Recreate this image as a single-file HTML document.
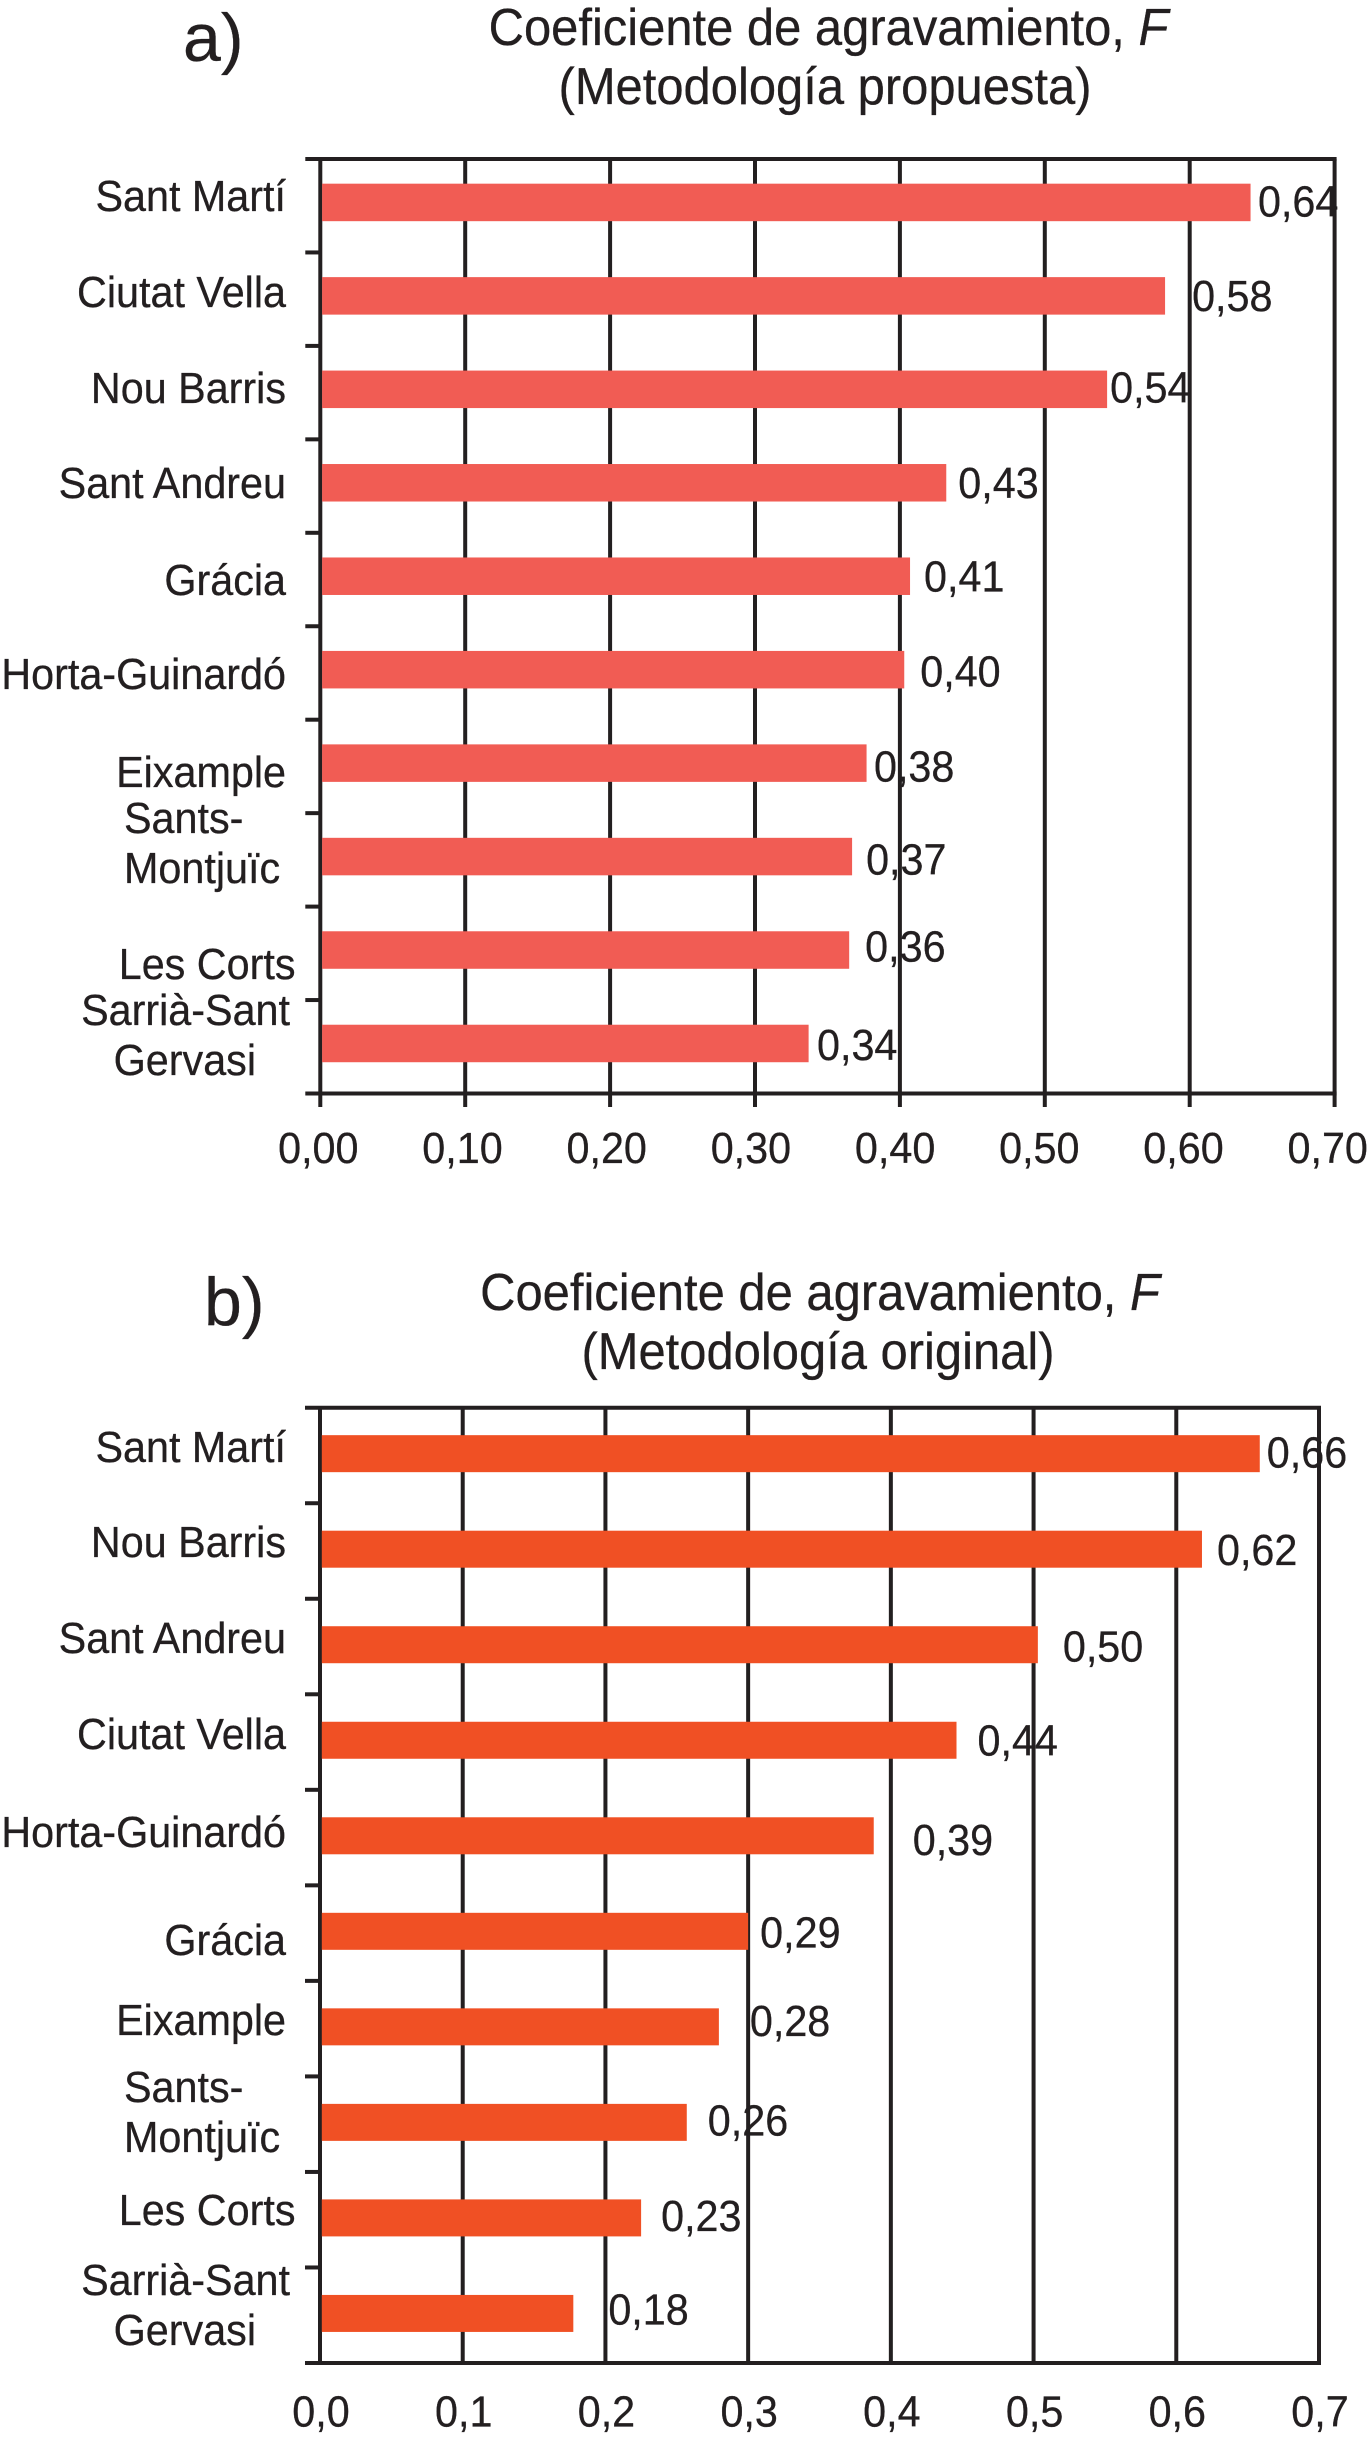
<!DOCTYPE html>
<html lang="es">
<head>
<meta charset="utf-8">
<title>Coeficiente de agravamiento</title>
<style>
html,body{margin:0;padding:0;background:#fff;}
svg{display:block;}
text{font-family:"Liberation Sans",Arial,sans-serif;fill:#231f20;stroke:#231f20;stroke-width:0.3;}
</style>
</head>
<body>
<svg id="figure" xmlns="http://www.w3.org/2000/svg" width="1369" height="2447" viewBox="0 0 1369 2447">
  <rect x="0" y="0" width="1369" height="2447" fill="#ffffff"/>
  <text x="183" y="61" font-size="68">a)</text>
  <text transform="translate(828.5,45) scale(.95,1)" font-size="51.5" text-anchor="middle">Coeficiente de agravamiento, <tspan font-style="italic">F</tspan></text>
  <text transform="translate(825,104) scale(.95,1)" font-size="51.5" text-anchor="middle">(Metodología propuesta)</text>
  <text x="204" y="1325" font-size="68">b)</text>
  <text transform="translate(820,1310) scale(.95,1)" font-size="51.5" text-anchor="middle">Coeficiente de agravamiento, <tspan font-style="italic">F</tspan></text>
  <text transform="translate(818,1369) scale(.95,1)" font-size="51.5" text-anchor="middle">(Metodología original)</text>
  <g id="chart-a"></g>
  <g id="chart-b"></g>
</svg>
<script>
// Panel a data
const categoriesA = ['Sant Martí','Ciutat Vella','Nou Barris','Sant Andreu','Grácia','Horta-Guinardó','Eixample','Sants-Montjuïc','Les Corts','Sarrià-Sant Gervasi'];
const valuesA = [0.642,0.583,0.543,0.432,0.407,0.403,0.377,0.367,0.365,0.337];
const printedA = ['0,64','0,58','0,54','0,43','0,41','0,40','0,38','0,37','0,36','0,34'];
const ticksA = [0,0.1,0.2,0.3,0.4,0.5,0.6,0.7];
const tickLabelsA = ['0,00','0,10','0,20','0,30','0,40','0,50','0,60','0,70'];

// Panel b data
const categoriesB = ['Sant Martí','Nou Barris','Sant Andreu','Ciutat Vella','Horta-Guinardó','Grácia','Eixample','Sants-Montjuïc','Les Corts','Sarrià-Sant Gervasi'];
const valuesB = [0.6585,0.618,0.503,0.446,0.388,0.30,0.2795,0.257,0.225,0.1775];
const printedB = ['0,66','0,62','0,50','0,44','0,39','0,29','0,28','0,26','0,23','0,18'];
const ticksB = [0,0.1,0.2,0.3,0.4,0.5,0.6,0.7];
const tickLabelsB = ['0,0','0,1','0,2','0,3','0,4','0,5','0,6','0,7'];

// Layout (not data)
const layoutA = {
  group:'chart-a', prefix:'a', color:'#f15c54',
  left:320.3, right:1334.6, top:159, bottom:1093.5, maxV:0.7,
  barHeight:37.5, centerShift:-3.3, tickDrop:13.5, axisLabelY:1163, axisLabelShift:function(v){return -2-7*v;},
  gapX:[7.4,27,3,12,14,16,7.4,14,16,8.4],
  gapY:[14,15,13,15,15.5,17,18.6,17.7,11.5,16.4],
  names:[
    [['Sant Martí',286,211,'end']],
    [['Ciutat Vella',286,307,'end']],
    [['Nou Barris',286,403,'end']],
    [['Sant Andreu',286,498,'end']],
    [['Grácia',286,595,'end']],
    [['Horta-Guinardó',286,689,'end']],
    [['Eixample',286,787,'end']],
    [['Sants-',124,833,'start'],['Montjuïc',124,883,'start']],
    [['Les Corts',295.5,979,'end']],
    [['Sarrià-Sant',290,1025,'end'],['Gervasi',256,1075,'end']]
  ]
};
const layoutB = {
  group:'chart-b', prefix:'b', color:'#f05024',
  left:320, right:1319, top:1407.7, bottom:2363, maxV:0.7,
  barHeight:37, centerShift:-1.8, tickDrop:0, axisLabelY:2426.7, axisLabelShift:function(v){return 1;},
  gapX:[7,15,25,21,39,12,31,21,20,35],
  gapY:[14,16,17,15,19,16,9,13,13,11],
  names:[
    [['Sant Martí',286,1462,'end']],
    [['Nou Barris',286,1557,'end']],
    [['Sant Andreu',286,1653,'end']],
    [['Ciutat Vella',286,1749,'end']],
    [['Horta-Guinardó',286,1847,'end']],
    [['Grácia',286,1955,'end']],
    [['Eixample',286,2035,'end']],
    [['Sants-',124,2102,'start'],['Montjuïc',124,2152,'start']],
    [['Les Corts',295.5,2225,'end']],
    [['Sarrià-Sant',290,2295,'end'],['Gervasi',256,2345,'end']]
  ]
};

const NS = 'http://www.w3.org/2000/svg';
const INK = '#231f20';
const LINE_W = 4;
const FONT = 43.5;
const NARROW = 0.95;

function make(tag, attrs, parent){
  const el = document.createElementNS(NS, tag);
  for (const k in attrs) el.setAttribute(k, attrs[k]);
  parent.appendChild(el);
  return el;
}

function placeText(x, y, anchor, parent){
  return make('text', {transform:'translate(' + x + ',' + y + ') scale(' + NARROW + ',1)', 'font-size':FONT, 'text-anchor':anchor}, parent);
}

function drawChart(L, categories, values, printed, ticks, tickLabels){
  const g = document.getElementById(L.group);
  const xScale = function(v){ return L.left + (L.right - L.left) * v / L.maxV; };
  const band = (L.bottom - L.top) / categories.length;
  const yCenter = function(i){ return L.top + band * (i + 0.5) + L.centerShift; };

  // gridlines and x ticks
  ticks.forEach(function(t, i){
    const line = make('line', {x1:xScale(t), x2:xScale(t), y1:L.top, y2:L.bottom + L.tickDrop, stroke:INK, 'stroke-width':LINE_W}, g);
    
    
  });

  // top and bottom axes
  const topAxis = make('line', {x1:L.left - 15, x2:L.right + 2, y1:L.top, y2:L.top, stroke:INK, 'stroke-width':LINE_W}, g);
  
  
  const bottomAxis = make('line', {x1:L.left - 15, x2:L.right + 2, y1:L.bottom, y2:L.bottom, stroke:INK, 'stroke-width':LINE_W}, g);
  
  

  // y category ticks
  categories.forEach(function(c, i){
    if (i === 0) return;
    const y = L.top + band * i;
    const tick = make('line', {x1:L.left - 15, x2:L.left, y1:y, y2:y, stroke:INK, 'stroke-width':LINE_W}, g);
    
    
  });

  // bars
  values.forEach(function(v, i){
    const bar = make('rect', {x:L.left + 1.8, y:yCenter(i) - L.barHeight / 2, width:Math.max(0, xScale(v) - L.left - 1.8), height:L.barHeight, fill:L.color}, g);
    
    
  });

  // printed values
  values.forEach(function(v, i){
    const label = placeText(xScale(v) + L.gapX[i], yCenter(i) + L.gapY[i], 'start', g);
    label.textContent = printed[i];
    
    
  });

  // x tick labels
  ticks.forEach(function(t, i){
    const label = placeText(xScale(t) + L.axisLabelShift(t), L.axisLabelY, 'middle', g);
    label.textContent = tickLabels[i];
    
    
  });

  // category labels
  L.names.forEach(function(lines, i){
    lines.forEach(function(row, j){
      const label = placeText(row[1], row[2], row[3], g);
      label.textContent = row[0];
      
      
    });
  });
}

drawChart(layoutA, categoriesA, valuesA, printedA, ticksA, tickLabelsA);
drawChart(layoutB, categoriesB, valuesB, printedB, ticksB, tickLabelsB);
</script>
</body>
</html>
